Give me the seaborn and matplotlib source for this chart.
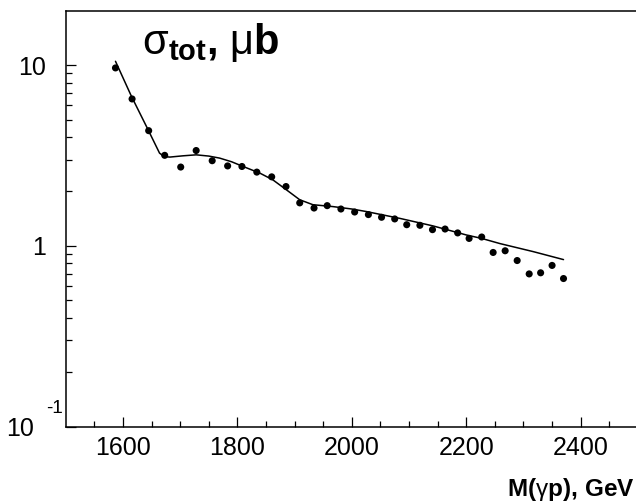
import matplotlib
matplotlib.use("Agg")
import matplotlib.pyplot as plt
import seaborn as sns
import pandas as pd
from matplotlib.ticker import FixedLocator, FixedFormatter, NullFormatter

# measured points
mass = [1587, 1616, 1645, 1673, 1701, 1728, 1756, 1783, 1808, 1834, 1860, 1885,
        1909, 1934, 1957, 1981, 2005, 2029, 2052, 2075,
        2096, 2119, 2141, 2163, 2185, 2205, 2227, 2247, 2268, 2289, 2310, 2330, 2350, 2370]
sigma = [9.65, 6.50, 4.34, 3.17, 2.73, 3.37, 2.96, 2.77, 2.75, 2.56, 2.41, 2.13,
         1.73, 1.62, 1.67, 1.60, 1.54, 1.49, 1.44, 1.41,
         1.31, 1.30, 1.23, 1.24, 1.18, 1.10, 1.12, 0.92, 0.94, 0.83, 0.70, 0.71, 0.78, 0.66]

# fitted curve
fit_mass = [1587, 1615, 1644, 1664, 1672, 1682, 1705, 1728, 1750, 1769, 1790, 1810,
            1839, 1862, 1886, 1909, 1932, 1967, 2000, 2025, 2084, 2142, 2200, 2227,
            2259, 2317, 2370]
fit_sigma = [10.5, 6.71, 4.39, 3.26, 3.12, 3.10, 3.15, 3.19, 3.14, 3.06, 2.92, 2.75,
             2.53, 2.32, 2.04, 1.80, 1.69, 1.65, 1.60, 1.55, 1.42, 1.29, 1.15, 1.10,
             1.03, 0.93, 0.84]

xticks = [1600, 1800, 2000, 2200, 2400]
xminor = [1550, 1650, 1700, 1750, 1850, 1900, 1950, 2050, 2100, 2150, 2250, 2300, 2350, 2450]
yticks = [0.1, 1, 10]
ytick_labels = ["", "1", "10"]

sns.set_style("ticks")
plt.rcParams['font.family'] = ['Liberation Sans', 'DejaVu Sans']
plt.rcParams['mathtext.fontset'] = 'custom'
plt.rcParams['mathtext.rm'] = 'Liberation Sans'
plt.rcParams['mathtext.bf'] = 'Liberation Sans:bold'
plt.rcParams['mathtext.it'] = 'Liberation Sans:italic'

W, H = 636, 504
fig = plt.figure(figsize=(W / 100, H / 100), dpi=100)
ax = fig.add_axes([65.7 / W, (H - 426.7) / H, (637.9 - 65.7) / W, (426.7 - 10.7) / H])

pts = pd.DataFrame({"mass": mass, "sigma": sigma})
fit = pd.DataFrame({"mass": fit_mass, "sigma": fit_sigma})

sns.lineplot(data=fit, x="mass", y="sigma", ax=ax, color="black", linewidth=1.1,
             sort=False, estimator=None)
sns.scatterplot(data=pts, x="mass", y="sigma", ax=ax, color="black", s=26,
                edgecolor="none", zorder=3)

ax.set_yscale("log")
ax.set_xlim(1500, 2500)
ax.set_ylim(0.1, 20)
ax.set_xlabel("")
ax.set_ylabel("")

ax.xaxis.set_major_locator(FixedLocator(xticks))
ax.xaxis.set_minor_locator(FixedLocator(xminor))
ax.yaxis.set_major_locator(FixedLocator(yticks))
ax.yaxis.set_major_formatter(FixedFormatter(ytick_labels))
ax.yaxis.set_minor_locator(FixedLocator([m * d for d in (0.1, 1) for m in range(2, 10)]))
ax.yaxis.set_minor_formatter(NullFormatter())

ax.tick_params(axis="both", which="major", direction="in", length=7, width=0.9,
               colors="black", labelsize=18)
ax.tick_params(axis="both", which="minor", direction="in", length=4, width=0.9,
               colors="black")
ax.tick_params(axis="x", which="major", pad=7)
ax.tick_params(axis="y", which="major", pad=14)
ax.tick_params(top=False, right=False, which="both")

for side in ("top", "left", "bottom"):
    ax.spines[side].set_visible(True)
    ax.spines[side].set_color("black")
    ax.spines[side].set_linewidth(1.1)
ax.spines["right"].set_visible(False)

# 10^-1 label in ROOT style
fig.text(34.3 / W, 1 - 429 / H, "10", ha="right", va="center", fontsize=18, color="black")
fig.text(63 / W, 1 - 413 / H, "-1", ha="right", va="baseline", fontsize=13.5, color="black")

# title inside axes
fig.text(142 / W, 1 - 54 / H, r"$\mathrm{σ}_{\mathbf{tot}}\mathbf{,}\ \mathrm{μ}\mathbf{b}$",
         ha="left", va="baseline", fontsize=30, color="black")

# x-axis title
fig.text(635 / W, 1 - 496 / H, r"$\mathbf{M(}\mathrm{γ}\mathbf{p),}\,\mathbf{GeV}$",
         ha="right", va="baseline", fontsize=17.5, color="black")

fig.savefig("out.png", dpi=100)
